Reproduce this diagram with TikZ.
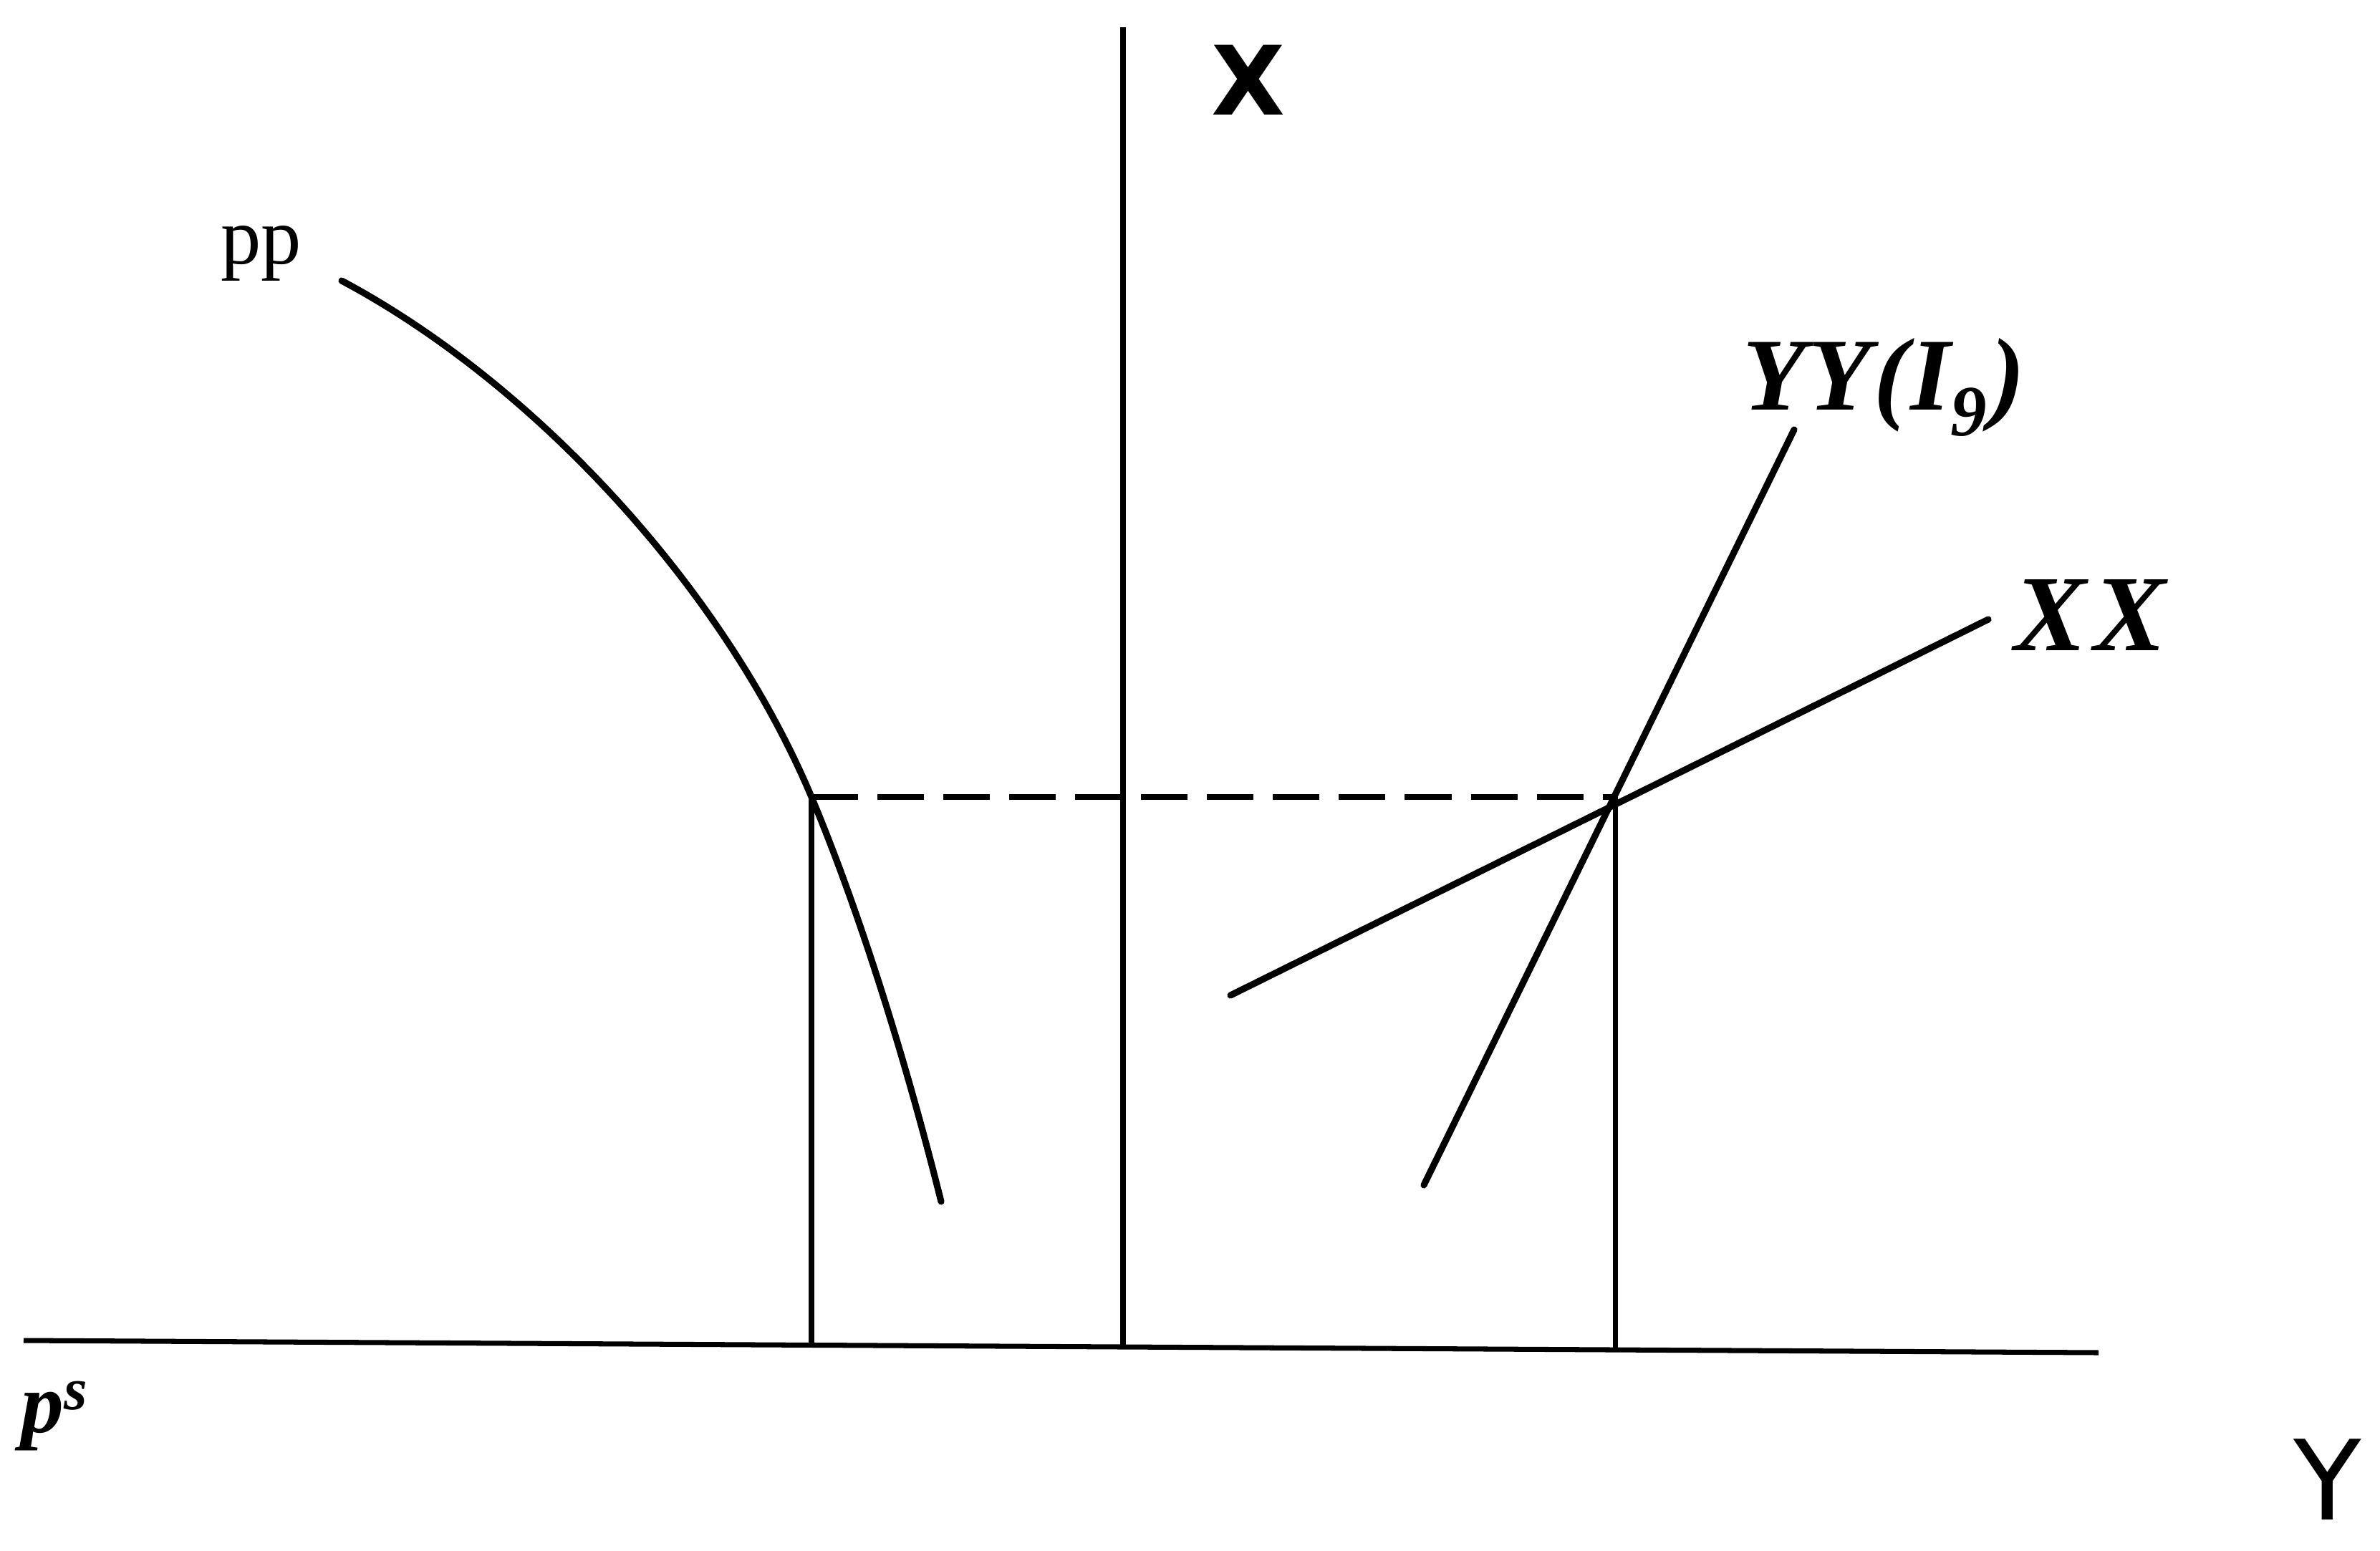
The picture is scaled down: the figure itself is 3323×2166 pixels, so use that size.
\documentclass[tikz,border=0pt]{standalone}
\usepackage{fontspec}
\setmainfont{Liberation Serif}
\newfontfamily\handf{DejaVu Sans}
\begin{document}
\begin{tikzpicture}[x=0.01cm,y=-0.01cm]
\tikzset{
  curveline/.style={line width=2.6pt, line cap=round, line join=round},
  axisline/.style={line width=2pt},
  guideline/.style={line width=2pt},
  dashguide/.style={line width=2.2pt, dash pattern=on 0.65cm off 0.27cm},
  lbl/.style={inner sep=0pt, outer sep=0pt},
}
\useasboundingbox (0,0) rectangle (3323,2166);
% coordinates
\coordinate (axL) at (33,1872);
\coordinate (axR) at (2930,1889);
\coordinate (vT) at (1568,38);
\coordinate (vB) at (1568,1881);
\coordinate (A) at (1133,1113);
\coordinate (B) at (2255,1113);
\coordinate (Ab) at (1133,1879);
\coordinate (Bb) at (2255,1885);
\coordinate (ppT) at (477,392);
\coordinate (ppB) at (1314,1678);
\coordinate (yyB) at (1988,1655);
\coordinate (yyT) at (2505,600);
\coordinate (xxL) at (1718,1390);
\coordinate (xxR) at (2776,865);
% axes
\draw[axisline] (axL) -- (axR);
\draw[axisline] (vT) -- (vB);
% guides
\draw[dashguide] (A) -- (B);
\draw[guideline] (A) -- (Ab);
\draw[guideline] (B) -- (Bb);
% curves
\draw[curveline] (ppT) .. controls (749,537) and (1012,825) .. (A)
                       .. controls (1205,1285) and (1269,1498) .. (ppB);
\draw[curveline] (yyB) -- (yyT);
\draw[curveline] (xxL) -- (xxR);
% labels
\node[lbl, anchor=base west, font=\fontsize{32}{36}\selectfont] (pp) at (308,368) {pp};
\node[lbl, anchor=base west, font=\bfseries\itshape\fontsize{41}{45}\selectfont] (yy) at (2433,572) {Y\kern1pt Y\kern1pt(\kern1pt I\textsubscript{9}\kern1pt)};
\node[lbl, anchor=base west, font=\bfseries\itshape\fontsize{43}{47}\selectfont] (xx) at (2812,908) {X\kern3pt X};
\node[lbl, anchor=base west, font=\bfseries\itshape\fontsize{34}{38}\selectfont] (ps) at (30,2000) {p\textsuperscript{s}};
\node[lbl, font=\handf\bfseries\fontsize{38}{42}\selectfont] (xlab) at (1743,112) {X};
\node[lbl, anchor=base, font=\handf\fontsize{44}{48}\selectfont] (ylab) at (3250,2122) {Y};
\end{tikzpicture}
\end{document}
